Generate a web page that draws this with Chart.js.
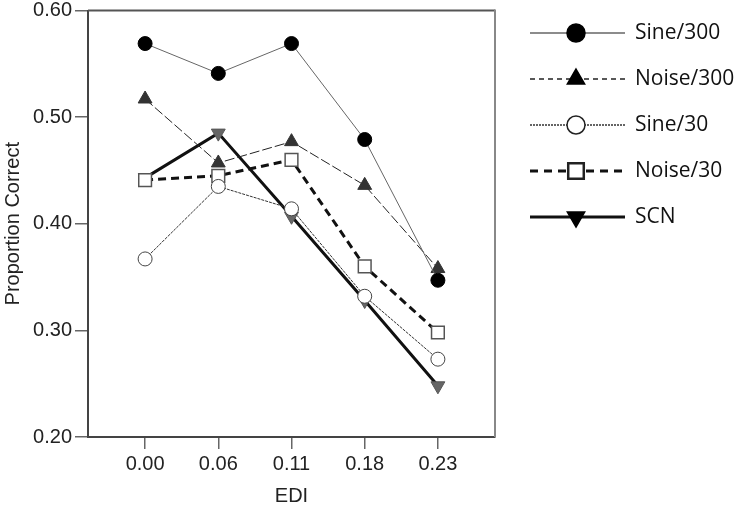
<!DOCTYPE html>
<html>
<head>
<meta charset="utf-8">
<script src="https://cdn.jsdelivr.net/npm/chart.js@4.4.0/dist/chart.umd.min.js"></script>
<style>
  html, body { margin: 0; padding: 0; background: #fff; }
  #wrap { width: 738px; height: 508px; }
</style>
</head>
<body>
<div id="wrap"><canvas id="chart" width="738" height="508"></canvas></div>
<script>
// EDI categories and proportion correct per condition
const ediLabels = ['0.00', '0.06', '0.11', '0.18', '0.23'];
const sine300  = [0.569, 0.541, 0.569, 0.479, 0.347];
const noise300 = [0.517, 0.457, 0.477, 0.436, 0.358];
const sine30   = [0.367, 0.435, 0.414, 0.332, 0.273];
const noise30  = [0.441, 0.445, 0.460, 0.360, 0.298];
const scn      = [0.443, 0.485, 0.407, 0.328, 0.248];
const yTicks   = [0.20, 0.30, 0.40, 0.50, 0.60];

const axisFont = { family: "'Liberation Sans', Arial, sans-serif", size: 20 };
const legendFont = "21px 'Open Sans', 'Noto Sans', sans-serif";

const toPoints = arr => arr.map((v, i) => ({ x: i, y: v }));

const datasets = [
  {
    label: 'Sine/300', data: toPoints(sine300),
    borderColor: '#666', borderWidth: 1,
    pointStyle: 'circle', pointRadius: 7, pointBackgroundColor: '#000', pointBorderColor: '#000', pointBorderWidth: 1,
    legendDash: [], legendRadius: 9, legendFill: '#000',
  },
  {
    label: 'Noise/300', data: toPoints(noise300),
    borderColor: '#222', borderWidth: 1, borderDash: [10, 3],
    pointStyle: 'triangle', pointRadius: 8, pointBackgroundColor: '#333', pointBorderColor: '#333', pointBorderWidth: 1,
    legendDash: [5, 4], legendRadius: 10, legendFill: '#000',
  },
  {
    label: 'Sine/30', data: toPoints(sine30),
    borderColor: '#333', borderWidth: 1, borderDash: [3, 1],
    pointStyle: 'circle', pointRadius: 7, pointBackgroundColor: '#fff', pointBorderColor: '#444', pointBorderWidth: 1,
    legendDash: [2, 1], legendRadius: 9, legendFill: '#fff',
  },
  {
    label: 'Noise/30', data: toPoints(noise30),
    borderColor: '#111', borderWidth: 3, borderDash: [8, 5],
    pointStyle: 'rect', pointRadius: 9, pointBackgroundColor: '#fff', pointBorderColor: '#555', pointBorderWidth: 1.5,
    legendDash: [8, 6], legendRadius: 11, legendFill: '#fff',
  },
  {
    label: 'SCN', data: toPoints(scn),
    borderColor: '#111', borderWidth: 3,
    pointStyle: 'triangle', pointRotation: 180, pointRadius: 8, pointBackgroundColor: '#666', pointBorderColor: '#555', pointBorderWidth: 1,
    legendDash: [], legendRadius: 10, legendFill: '#000',
  },
];
datasets.forEach(d => { d.fill = false; d.tension = 0; d.pointHoverRadius = d.pointRadius; });

// frame around the plot + legend at the right drawn by hand
function drawMarker(ctx, ds, x, y, r) {
  ctx.save();
  ctx.fillStyle = ds.legendFill;
  ctx.strokeStyle = ds.legendFill === '#fff' ? '#222' : '#000';
  ctx.lineWidth = ds.pointStyle === 'rect' ? 2.5 : 1.5;
  ctx.setLineDash([]);
  ctx.beginPath();
  if (ds.pointStyle === 'circle') {
    ctx.arc(x, y, r, 0, Math.PI * 2);
  } else if (ds.pointStyle === 'rect') {
    const s = r * Math.SQRT1_2;
    ctx.rect(x - s, y - s, 2 * s, 2 * s);
  } else {
    const dir = ds.pointRotation === 180 ? -1 : 1;
    const w = r * Math.sqrt(3) / 2;
    ctx.moveTo(x, y - dir * r);
    ctx.lineTo(x + w, y + dir * r / 2);
    ctx.lineTo(x - w, y + dir * r / 2);
    ctx.closePath();
  }
  ctx.fill();
  ctx.stroke();
  ctx.restore();
}

const frameAndLegend = {
  id: 'frameAndLegend',
  beforeDatasetsDraw(chart) {
    const { ctx, chartArea: a } = chart;
    ctx.save();
    ctx.lineWidth = 2;
    ctx.strokeStyle = '#555';
    ctx.beginPath();
    ctx.moveTo(a.left, a.top);
    ctx.lineTo(a.right, a.top);
    ctx.stroke();
    ctx.strokeStyle = '#888';
    ctx.beginPath();
    ctx.moveTo(a.right, a.top - 1);
    ctx.lineTo(a.right, a.bottom);
    ctx.stroke();
    ctx.restore();
  },
  afterDraw(chart) {
    const ctx = chart.ctx;
    const x0 = 530, x1 = 625, xm = 576, tx = 635;
    chart.data.datasets.forEach((ds, i) => {
      const y = 33 + i * 46;
      ctx.save();
      ctx.strokeStyle = ds.borderColor;
      ctx.lineWidth = ds.borderWidth === 1 ? 1.5 : ds.borderWidth;
      ctx.setLineDash(ds.legendDash);
      ctx.beginPath();
      ctx.moveTo(x0, y);
      ctx.lineTo(x1, y);
      ctx.stroke();
      ctx.restore();
      drawMarker(ctx, ds, xm, y, ds.legendRadius);
      ctx.save();
      ctx.fillStyle = '#111';
      ctx.font = legendFont;
      ctx.textBaseline = 'middle';
      ctx.fillText(ds.label, tx, y);
      ctx.restore();
    });
  },
};

new Chart(document.getElementById('chart'), {
  type: 'line',
  data: { datasets },
  plugins: [frameAndLegend],
  options: {
    responsive: false,
    animation: false,
    layout: { padding: { left: 0, top: 8, right: 243, bottom: 0 } },
    plugins: { legend: { display: false }, tooltip: { enabled: false } },
    scales: {
      x: {
        type: 'linear',
        min: -0.78,
        max: 4.78,
        afterBuildTicks: scale => { scale.ticks = ediLabels.map((_, i) => ({ value: i })); },
        afterFit: scale => { scale.height = 71; scale.paddingLeft = 0; scale.paddingRight = 0; },
        ticks: {
          autoSkip: false, maxRotation: 0, padding: 3,
          font: axisFont, color: '#222',
          callback: v => ediLabels[v] ?? '',
        },
        grid: { drawOnChartArea: false, drawTicks: true, tickLength: 12, tickColor: '#666', lineWidth: 1.5 },
        border: { display: true, color: '#444', width: 2 },
        title: { display: true, text: 'EDI', font: axisFont, color: '#222', padding: { top: 0, bottom: 0 } },
      },
      y: {
        min: 0.2,
        max: 0.6,
        afterBuildTicks: scale => { scale.ticks = yTicks.map(v => ({ value: v })); },
        afterFit: scale => { scale.width = 88; scale.paddingTop = 0; scale.paddingBottom = 0; },
        ticks: {
          padding: 3, font: axisFont, color: '#222',
          callback: v => Number(v).toFixed(2),
        },
        grid: { drawOnChartArea: false, drawTicks: true, tickLength: 13, tickColor: '#666', lineWidth: 1.5 },
        border: { display: true, color: '#444', width: 2 },
        title: { display: true, text: 'Proportion Correct', font: axisFont, color: '#222', padding: { top: 1, bottom: 0 } },
      },
    },
  },
});
</script>
</body>
</html>
